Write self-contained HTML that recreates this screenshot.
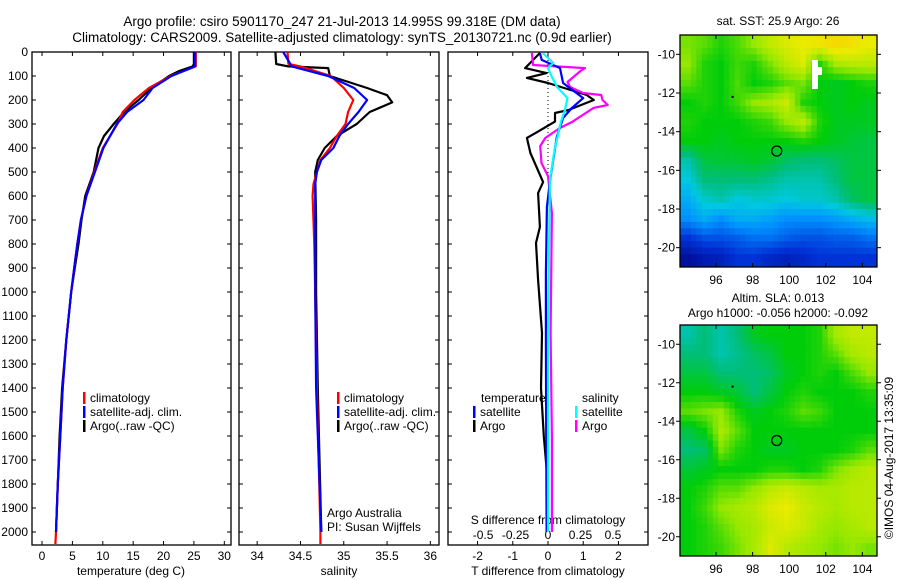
<!DOCTYPE html>
<html><head><meta charset="utf-8">
<style>
body{margin:0;background:#fff;}
svg{display:block;font-family:"Liberation Sans","DejaVu Sans",sans-serif;}
text{fill:#000;}
</style></head>
<body>
<svg id="fig" width="900" height="580" viewBox="0 0 900 580" xmlns="http://www.w3.org/2000/svg">
<rect width="900" height="580" fill="#fff"/>
<text x="342" y="26" font-size="13.5" text-anchor="middle">Argo profile: csiro 5901170_247 21-Jul-2013 14.995S 99.318E (DM data)</text>
<text x="342" y="42" font-size="13.5" text-anchor="middle">Climatology: CARS2009. Satellite-adjusted climatology: synTS_20130721.nc (0.9d earlier)</text>
<text x="778" y="25" font-size="12" text-anchor="middle">sat. SST: 25.9 Argo: 26</text>
<text x="778" y="302" font-size="12" text-anchor="middle">Altim. SLA: 0.013</text>
<text x="778" y="317" font-size="12" text-anchor="middle">Argo h1000: -0.056 h2000: -0.092</text>
<text transform="translate(893,458) rotate(-90)" font-size="12" text-anchor="middle">©IMOS 04-Aug-2017 13:35:09</text>
<g id="g"></g>
</svg>
<script>
// ---- data ----
const depthTicks = [0,100,200,300,400,500,600,700,800,900,1000,1100,1200,1300,1400,1500,1600,1700,1800,1900,2000];
const tempTicks = [0,5,10,15,20,25,30];
const salTicks = [34,34.5,35,35.5,36];
const salTickLabels = ["34","34.5","35","35.5","36"];
const tdiffTicks = [-2,-1,0,1,2];
const sdiffTicks = [-0.5,-0.25,0,0.25,0.5];
const sdiffTickLabels = ["-0.5","-0.25","0","0.25","0.5"];

const tArgoDepth = [0,50,60,80,100,150,200,250,300,350,400,450,500,600,700,800,900,1000,1200,1400,1600,1800,2000];
const tArgo =      [25,25,24.8,22.5,20.9,18,15.9,13.5,11.8,10.2,9.3,8.9,8.5,7.1,6.5,6,5.4,4.8,4,3.3,2.9,2.6,2.3];
const tClimDepth = [0,60,100,150,200,250,300,400,500,600,700,800,900,1000,1200,1400,1600,1800,2000,2050];
const tClim =      [25.3,25.3,21.2,17.6,15.2,13.3,12.4,10,8.6,7.3,6.4,5.8,5.3,4.8,4,3.4,3,2.6,2.3,2.2];
const tSatDepth =  [0,60,100,150,200,250,300,400,500,600,700,800,900,1000,1200,1400,1600,1800,2000];
const tSat =       [25.2,25.2,21.3,18.2,16.7,14,12.3,10.1,8.7,7.3,6.4,5.8,5.3,4.8,4,3.4,3,2.6,2.3];

const sArgoDepth = [0,50,60,67,100,150,180,210,250,300,350,400,450,500,700,1000,1400,1700,2000];
const sArgo =      [34.21,34.22,34.36,34.82,34.84,35.27,35.5,35.56,35.3,35.15,34.92,34.78,34.7,34.67,34.68,34.68,34.7,34.72,34.74];
const sClimDepth = [0,50,60,100,150,200,250,300,350,400,450,500,550,600,800,1000,1400,1700,2000,2050];
const sClim =      [34.35,34.36,34.5,34.85,35.0,35.11,35.05,35.02,34.92,34.84,34.73,34.69,34.65,34.64,34.66,34.67,34.69,34.71,34.73,34.73];
const sSatDepth =  [0,60,100,150,200,250,300,350,400,450,500,550,800,1000,1400,1700,2000];
const sSat =       [34.3,34.4,34.82,35.12,35.27,35.17,35.05,34.95,34.88,34.74,34.69,34.67,34.67,34.67,34.68,34.71,34.74];

const dTArgoDepth = [4,67,88,108,129,179,200,242,254,290,333,358,421,542,588,729,796,950,1171,1400,1600,1750];
const dTArgo =      [-0.23,-0.65,-0.04,-0.6,0,1.1,1.3,0.57,0.2,0.2,-0.3,-0.6,-0.5,-0.14,-0.28,-0.23,-0.34,-0.28,-0.17,-0.2,-0.12,-0.03];
const dTSatDepth = [4,33,67,129,192,233,275,354,533,646,921,1180,1600,2000];
const dTSat =      [-0.23,-0.18,0.34,0.43,1.0,0.68,0.43,0.25,0.06,-0.03,-0.06,-0.06,-0.05,-0.04];
const dSArgoDepth = [4,54,67,79,125,146,171,179,200,221,233,290,317,358,392,463,517,671,1171,1600,2000];
const dSArgo =      [-0.125,-0.115,0.285,0.25,0.15,0.17,0.27,0.41,0.42,0.46,0.35,0.19,0.09,-0.02,-0.06,-0.05,0,0.03,0.02,0.03,0.03];
const dSSatDepth = [4,46,67,104,146,192,242,290,408,533,1171,1600,2000];
const dSSat =      [-0.04,0.04,0,0.03,0.07,0.15,0.13,0.1,0.05,0.015,0,0,0];

const mapLonTicks = [96,98,100,102,104];
const mapLatTicks = [-10,-12,-14,-16,-18,-20];
const mapLatLabels = ["10","12","14","16","18","20"];
const sstGrid = [
[.68,.66,.62,.65,.70,.75,.78,.80,.82,.85,.83,.80],
[.70,.62,.60,.64,.62,.68,.74,.78,.62,.72,.74,.74],
[.66,.62,.60,.65,.60,.62,.66,.68,.60,.58,.60,.62],
[.60,.62,.60,.64,.70,.72,.76,.62,.60,.58,.60,.58],
[.62,.60,.60,.60,.62,.64,.70,.74,.62,.58,.58,.58],
[.60,.60,.58,.60,.60,.60,.60,.62,.60,.58,.56,.55],
[.45,.55,.56,.56,.58,.56,.52,.50,.50,.52,.55,.55],
[.40,.50,.50,.50,.50,.48,.45,.45,.45,.50,.55,.55],
[.35,.42,.45,.40,.42,.42,.40,.42,.42,.45,.52,.55],
[.30,.35,.30,.35,.35,.33,.30,.30,.30,.32,.35,.38],
[.15,.20,.20,.22,.25,.25,.22,.20,.20,.22,.22,.25],
[.05,.08,.10,.15,.15,.12,.10,.12,.15,.15,.15,.15]];
const slaGrid = [
[.45,.50,.45,.50,.58,.60,.60,.60,.62,.72,.75,.75],
[.50,.50,.45,.48,.52,.55,.60,.60,.62,.66,.72,.74],
[.55,.55,.50,.50,.50,.52,.58,.60,.62,.60,.65,.70],
[.60,.60,.58,.56,.50,.55,.60,.62,.60,.60,.60,.62],
[.66,.68,.70,.62,.58,.60,.62,.66,.64,.60,.60,.60],
[.55,.60,.72,.66,.60,.60,.60,.60,.60,.60,.60,.60],
[.50,.52,.68,.62,.60,.58,.58,.60,.60,.60,.62,.66],
[.56,.58,.60,.60,.60,.62,.62,.60,.62,.68,.72,.74],
[.60,.62,.66,.66,.70,.74,.76,.74,.72,.72,.74,.74],
[.60,.64,.70,.72,.74,.78,.80,.76,.74,.72,.74,.74],
[.60,.62,.66,.70,.72,.76,.78,.76,.72,.70,.72,.74],
[.60,.62,.64,.68,.72,.78,.74,.72,.70,.68,.70,.68]];
const argoLon = [99.32];
const argoLat = [-15.0];

// ---- drawing ----
const NS="http://www.w3.org/2000/svg";
const G=document.getElementById('g');
function el(tag,attrs,parent){const e=document.createElementNS(NS,tag);for(const k in attrs)e.setAttribute(k,attrs[k]);(parent||G).appendChild(e);return e;}
function txt(s,x,y,anchor,size,parent){const t=el('text',{x:x,y:y,'font-size':size||12,'text-anchor':anchor||'start'},parent);t.textContent=s;return t;}
const TOP=52, BOT=545;
const yD=d=>TOP+d*0.24;
function lin(d0,d1,r0,r1){return v=>r0+(v-d0)/(d1-d0)*(r1-r0);}

const panels=[
 {name:'temperature-panel',x0:32,x1:231,sx:lin(-1.65,31.1,32,231)},
 {name:'salinity-panel',x0:239,x1:439,sx:lin(33.79,36.1,239,439)},
 {name:'difference-panel',x0:448,x1:648,sx:lin(-2.84,2.84,448,648)}
];
const sdx=lin(-0.77,0.77,448,648);

panels.forEach((p,i)=>{
 const g=el('g',{});
 
 
 p.g=g;
 const fr=el('rect',{x:p.x0,y:TOP,width:p.x1-p.x0,height:BOT-TOP,fill:'none',stroke:'#000','stroke-width':1.3},g);
 
 
 depthTicks.forEach(d=>{
  el('line',{x1:p.x0,x2:p.x0+4,y1:yD(d),y2:yD(d),stroke:'#000'},g);
  el('line',{x1:p.x1,x2:p.x1-4,y1:yD(d),y2:yD(d),stroke:'#000'},g);
  if(i==0){const t=txt(String(d),28,yD(d)+4,'end',12,g);
   
   }
 });
});
tempTicks.forEach(v=>{const x=panels[0].sx(v);
 el('line',{x1:x,x2:x,y1:BOT,y2:BOT-4,stroke:'#000'},panels[0].g);
 el('line',{x1:x,x2:x,y1:TOP,y2:TOP+4,stroke:'#000'},panels[0].g);
 const t=txt(String(v),x,560,'middle',12,panels[0].g);
 
 });
salTicks.forEach((v,k)=>{const x=panels[1].sx(v);
 el('line',{x1:x,x2:x,y1:BOT,y2:BOT-4,stroke:'#000'},panels[1].g);
 el('line',{x1:x,x2:x,y1:TOP,y2:TOP+4,stroke:'#000'},panels[1].g);
 const t=txt(salTickLabels[k],x,560,'middle',12,panels[1].g);
 
 });
tdiffTicks.forEach(v=>{const x=panels[2].sx(v);
 el('line',{x1:x,x2:x,y1:BOT,y2:BOT-4,stroke:'#000'},panels[2].g);
 el('line',{x1:x,x2:x,y1:TOP,y2:TOP+4,stroke:'#000'},panels[2].g);
 const t=txt(String(v),x,560,'middle',12,panels[2].g);
 
 });
sdiffTicks.forEach((v,k)=>{const t=txt(sdiffTickLabels[k],sdx(v),539,'middle',12,panels[2].g);
 
 });
[['temperature (deg C)',131,'x-axis-title-temperature'],['salinity',339,'x-axis-title-salinity'],['T difference from climatology',548,'x-axis-title-t-diff']].forEach(a=>{
 const t=txt(a[0],a[1],575,'middle',12);
 
 });
{const t=txt('S difference from climatology',548,524,'middle',12);
 
 }
{const l=el('line',{x1:panels[2].sx(0),x2:panels[2].sx(0),y1:TOP,y2:175,stroke:'#000','stroke-dasharray':'1,3'});
 
 }

function series(depths,vals,sx,color,name){
 const pts=depths.map((d,k)=>sx(vals[k]).toFixed(1)+','+yD(d).toFixed(1)).join(' ');
 const pl=el('polyline',{points:pts,fill:'none',stroke:color,'stroke-width':2.2,'stroke-linejoin':'round'});
 
 
}
series(tArgoDepth,tArgo,panels[0].sx,'#000','temperature-argo-line');
series(tClimDepth,tClim,panels[0].sx,'#f00','temperature-climatology-line');
series(tSatDepth,tSat,panels[0].sx,'#00f','temperature-satellite-line');
series(sArgoDepth,sArgo,panels[1].sx,'#000','salinity-argo-line');
series(sClimDepth,sClim,panels[1].sx,'#f00','salinity-climatology-line');
series(sSatDepth,sSat,panels[1].sx,'#00f','salinity-satellite-line');
series(dTArgoDepth,dTArgo,panels[2].sx,'#000','t-diff-argo-line');
series(dSArgoDepth,dSArgo,sdx,'#f0f','s-diff-argo-line');
series(dTSatDepth,dTSat,panels[2].sx,'#00f','t-diff-satellite-line');
series(dSSatDepth,dSSat,sdx,'#0ff','s-diff-satellite-line');

function legend(x,y,color,label,name){
 const g=el('g',{});
 
 
 el('rect',{x:x,y:y-10,width:2.5,height:12,fill:color},g);
 txt(label,x+7,y,'start',12,g);
}
legend(83,402,'#f00','climatology','legend-climatology');
legend(83,416,'#00f','satellite-adj. clim.','legend-satellite');
legend(83,430,'#000','Argo(..raw -QC)','legend-argo');
legend(337,402,'#f00','climatology','legend-climatology-sal');
legend(337,416,'#00f','satellite-adj. clim.','legend-satellite-sal');
legend(337,430,'#000','Argo(..raw -QC)','legend-argo-sal');
{const t=txt('temperature',481,402,'start',12);}
{const t=txt('salinity',582,402,'start',12);}
legend(473,416,'#00f','satellite','legend-t-satellite');
legend(473,430,'#000','Argo','legend-t-argo');
legend(575,416,'#0ff','satellite','legend-s-satellite');
legend(575,430,'#f0f','Argo','legend-s-argo');
{const t=txt('Argo Australia',327,517,'start',12);}
{const t=txt('PI: Susan Wijffels',327,531,'start',12);}

// ---- maps ----
const cstops=[[0,[0,0,130]],[0.15,[0,50,215]],[0.3,[0,145,255]],[0.4,[0,200,225]],[0.5,[0,190,120]],[0.6,[0,205,10]],[0.7,[150,232,0]],[0.8,[235,235,0]],[0.9,[250,200,0]],[1,[250,150,0]]];
function cmap(v){for(let k=1;k<cstops.length;k++){if(v<=cstops[k][0]){const a=cstops[k-1],b=cstops[k];const f=(v-a[0])/(b[0]-a[0]);return 'rgb('+a[1].map((c,j)=>Math.round(c+(b[1][j]-c)*f)).join(',')+')';}}return 'rgb(250,150,0)';}
function sample(grid,fr,fc){
 const R=grid.length,C=grid[0].length;
 fr=Math.max(0,Math.min(R-1,fr));fc=Math.max(0,Math.min(C-1,fc));
 const r0=Math.floor(fr),c0=Math.floor(fc),r1=Math.min(R-1,r0+1),c1=Math.min(C-1,c0+1);
 const a=fr-r0,b=fc-c0;
 return grid[r0][c0]*(1-a)*(1-b)+grid[r0][c1]*(1-a)*b+grid[r1][c0]*a*(1-b)+grid[r1][c1]*a*b;
}
function drawMap(grid,x0,x1,y0,y1,name){
 const g=el('g',{});
 
 
 const lonS=lin(94.03,104.8,x0,x1), latS=lin(-9.0,-21.0,y0,y1);
 const R=grid.length,C=grid[0].length,U=3;
 const cw=(x1-x0)/(C*U),ch=(y1-y0)/(R*U);
 for(let r=0;r<R*U;r++)for(let c=0;c<C*U;c++){
  const v=sample(grid,(r+0.5)/U-0.5,(c+0.5)/U-0.5);
  const cell=el('rect',{x:(x0+c*cw).toFixed(2),y:(y0+r*ch).toFixed(2),width:(cw+0.5).toFixed(2),height:(ch+0.5).toFixed(2),fill:cmap(v)},g);
  
  
 }
 el('rect',{x:x0,y:y0,width:x1-x0,height:y1-y0,fill:'none',stroke:'#000','stroke-width':1.3},g);
 mapLonTicks.forEach(v=>{const x=lonS(v);
  el('line',{x1:x,x2:x,y1:y0,y2:y0+4,stroke:'#000'},g);
  el('line',{x1:x,x2:x,y1:y1,y2:y1-4,stroke:'#000'},g);
  const t=txt(String(v),x,y1+17,'middle',12,g);
  
  });
 mapLatTicks.forEach((v,k)=>{const y=latS(v);
  el('line',{x1:x0-4,x2:x0,y1:y,y2:y,stroke:'#000'},g);
  el('line',{x1:x1,x2:x1+4,y1:y,y2:y,stroke:'#000'},g);
  const t=txt('-'+mapLatLabels[k],675,y+4,'end',12,g);
  
  });
 const c=el('circle',{cx:lonS(argoLon[0]),cy:latS(argoLat[0]),r:5,fill:'none',stroke:'#000','stroke-width':1.2},g);
 
 
 el('rect',{x:lonS(96.85),y:latS(-12.15),width:2,height:2,fill:'#000'},g);
 return g;
}
drawMap(sstGrid,680,877,35,267,'sst-map');
drawMap(slaGrid,680,877,325,556,'sla-map');
{const p=el('path',{d:'M812 60h6v7h4v8h-4v14h-6z',fill:'#fff'});}
</script>
</body></html>
